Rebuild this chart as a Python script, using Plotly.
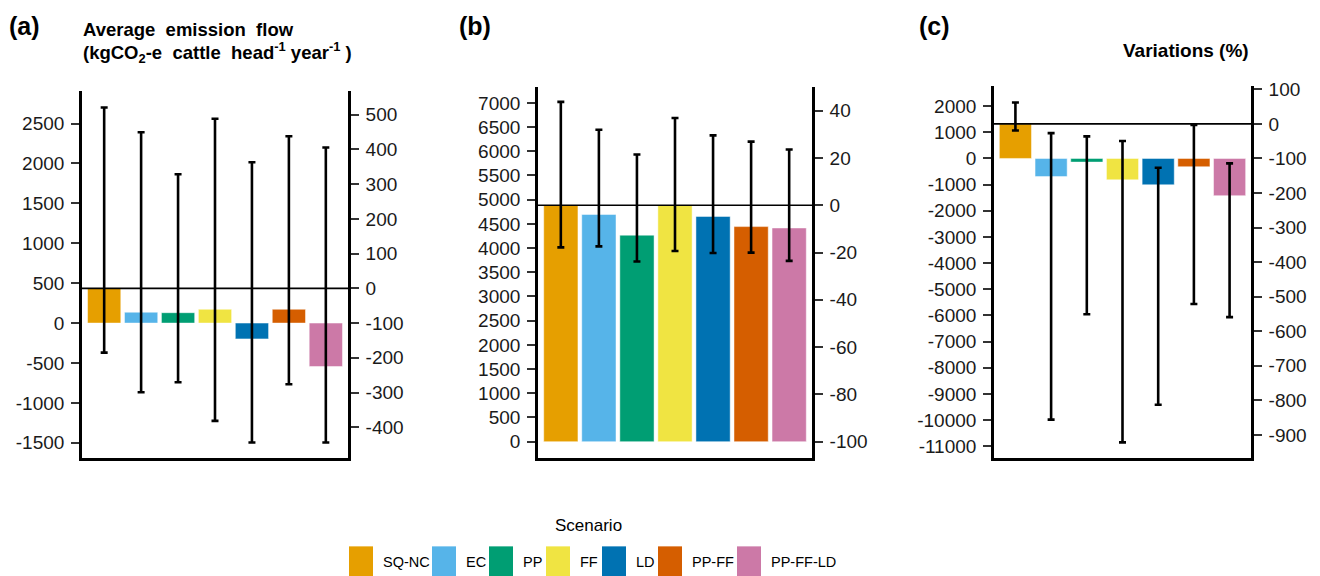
import plotly.graph_objects as go

# ---------------- data ----------------
scenarios = ["SQ-NC", "EC", "PP", "FF", "LD", "PP-FF", "PP-FF-LD"]
colors = ["#E69F00", "#56B4E9", "#009E73", "#F0E442", "#0072B2", "#D55E00", "#CC79A7"]

# panel (a)
a_values = [435, 136, 130, 173, -198, 173, -544]
a_err_high = [2700, 2390, 1865, 2560, 2015, 2340, 2200]
a_err_low = [-370, -866, -742, -1225, -1497, -767, -1497]
a_left_ticks = [-1500, -1000, -500, 0, 500, 1000, 1500, 2000, 2500]
a_right_ticks = [-400, -300, -200, -100, 0, 100, 200, 300, 400, 500]

# panel (b)
b_values = [4884, 4694, 4266, 4884, 4653, 4443, 4415]
b_err_high = [7020, 6443, 5933, 6688, 6327, 6198, 6035]
b_err_low = [4014, 4035, 3721, 3939, 3898, 3905, 3735]
b_left_ticks = [0, 500, 1000, 1500, 2000, 2500, 3000, 3500, 4000, 4500, 5000, 5500, 6000, 6500, 7000]
b_right_ticks = [-100, -80, -60, -40, -20, 0, 20, 40]

# panel (c)
c_values = [1321, -694, -140, -819, -1008, -317, -1423]
c_err_high = [2137, 966, 842, 664, -355, 1283, -189]
c_err_low = [1068, -9981, -5953, -10849, -9414, -5564, -6066]
c_left_ticks = [-11000, -10000, -9000, -8000, -7000, -6000, -5000, -4000, -3000, -2000, -1000, 0, 1000, 2000]
c_right_ticks = [-900, -800, -700, -600, -500, -400, -300, -200, -100, 0, 100]

panel_labels = ["(a)", "(b)", "(c)"]

# ---------------- layout helpers ----------------
W, H = 1320, 576
def px(x):
    return x / W
def py(y):
    return 1 - y / H

panels = [
    dict(values=a_values, hi=a_err_high, lo=a_err_low, lt=a_left_ticks, rt=a_right_ticks,
         xdom=(82, 348), ydom=(457, 85), yrange=(-1696, 2908)),
    dict(values=b_values, hi=b_err_high, lo=b_err_low, lt=b_left_ticks, rt=b_right_ticks,
         xdom=(538, 812), ydom=(457, 81), yrange=(-347, 7327)),
    dict(values=c_values, hi=c_err_high, lo=c_err_low, lt=c_left_ticks, rt=c_right_ticks,
         xdom=(994, 1251), ydom=(457, 80), yrange=(-11465, 2767)),
]

FONT = "Liberation Sans, Arial, sans-serif"
tickfont = dict(family=FONT, size=19, color="#1a1a1a")

fig = go.Figure()
layout = dict(
    width=W, height=H, margin=dict(l=0, r=0, t=0, b=0),
    paper_bgcolor="white", plot_bgcolor="white",
    showlegend=False, bargap=0.1,
    font=dict(family=FONT, color="black"),
)
shapes = []
annotations = []

for i, p in enumerate(panels):
    xa = "x" if i == 0 else f"x{i+1}"
    yl = f"y{2*i+1}" if i > 0 else "y"
    yr = f"y{2*i+2}"
    xkey = "xaxis" if i == 0 else f"xaxis{i+1}"
    ylkey = "yaxis" if i == 0 else f"yaxis{2*i+1}"
    yrkey = f"yaxis{2*i+2}"
    base = p["values"][0]
    plus = [h - v for h, v in zip(p["hi"], p["values"])]
    minus = [v - l for l, v in zip(p["lo"], p["values"])]

    fig.add_trace(go.Bar(
        x=scenarios, y=p["values"], xaxis=xa, yaxis=yl,
        marker=dict(color=colors, line=dict(color="rgba(255,255,255,0.6)", width=0.8)),
        width=0.9,
        error_y=dict(type="data", symmetric=False, array=plus, arrayminus=minus,
                     color="black", thickness=2.6, width=3.5),
    ))
    # invisible trace to activate right axis
    fig.add_trace(go.Scatter(x=[scenarios[0]], y=[0], xaxis=xa, yaxis=yr,
                             mode="markers", marker=dict(opacity=0), hoverinfo="skip"))

    rlo = (p["yrange"][0] / base - 1) * 100
    rhi = (p["yrange"][1] / base - 1) * 100

    common = dict(showline=True, linecolor="black", linewidth=2.6,
                  ticks="outside", ticklen=8, tickwidth=2.2, tickcolor="#333333",
                  tickfont=tickfont, showgrid=False, zeroline=False,
                  ticklabelstandoff=3, tickmode="array")
    layout[xkey] = dict(domain=[px(p["xdom"][0]), px(p["xdom"][1])], anchor=yl,
                        range=[-0.6, 6.6], showticklabels=False, ticks="",
                        showline=True, linecolor="black", linewidth=2.6,
                        showgrid=False, zeroline=False, fixedrange=True)
    layout[ylkey] = dict(domain=[py(p["ydom"][0]), py(p["ydom"][1])], anchor=xa,
                         range=list(p["yrange"]),
                         tickvals=p["lt"], ticktext=[str(v) for v in p["lt"]], **common)
    layout[yrkey] = dict(overlaying=yl, side="right", anchor=xa,
                         range=[rlo, rhi],
                         tickvals=p["rt"], ticktext=[str(v) for v in p["rt"]], **common)
    # 0 % reference line
    shapes.append(dict(type="line", xref=f"{xa} domain", yref=yr, x0=0, x1=1, y0=0, y1=0,
                       line=dict(color="black", width=1.6), layer="above"))

# panel letters
for lab, xpos in zip(panel_labels, [7, 457, 917]):
    annotations.append(dict(text=f"<b>{lab}</b>", xref="paper", yref="paper",
                            x=px(xpos), y=py(19), xanchor="left", yanchor="middle",
                            showarrow=False, font=dict(size=25, family=FONT, color="black")))

NB = "\u00a0"
annotations.append(dict(text=f"<b>Average{NB}{NB}emission{NB}{NB}flow</b>", xref="paper", yref="paper",
                        x=px(81), y=py(23), xanchor="left", yanchor="middle", showarrow=False,
                        font=dict(size=18.5, family=FONT, color="black")))
annotations.append(dict(text=f"<b>(kgCO<sub>2</sub>-e{NB}{NB}cattle{NB}{NB}head<sup>-1</sup>{NB}year<sup>-1</sup>{NB})</b>",
                        xref="paper", yref="paper",
                        x=px(81), y=py(46), xanchor="left", yanchor="middle", showarrow=False,
                        font=dict(size=18.5, family=FONT, color="black")))
annotations.append(dict(text="<b>Variations (%)</b>", xref="paper", yref="paper",
                        x=px(1251), y=py(44), xanchor="right", yanchor="middle", showarrow=False,
                        font=dict(size=19, family=FONT, color="black")))

# manual legend
annotations.append(dict(text="Scenario", xref="paper", yref="paper",
                        x=px(588), y=py(525), xanchor="center", yanchor="middle", showarrow=False,
                        font=dict(size=17, family=FONT, color="black")))
legend_key_x = [349, 432, 489, 546, 602, 658, 737]
for name, col, kx in zip(scenarios, colors, legend_key_x):
    shapes.append(dict(type="rect", xref="paper", yref="paper",
                       x0=px(kx), x1=px(kx + 24), y0=py(576), y1=py(546),
                       fillcolor=col, line=dict(width=0)))
    annotations.append(dict(text=name, xref="paper", yref="paper",
                            x=px(kx + 32), y=py(562), xanchor="left", yanchor="middle",
                            showarrow=False, font=dict(size=14.5, family=FONT, color="black")))

layout["shapes"] = shapes
layout["annotations"] = annotations
fig.update_layout(**layout)
fig.write_html("out.html", config={"displayModeBar": False},
               post_script="document.body.style.margin='0';document.body.style.overflow='hidden';")
